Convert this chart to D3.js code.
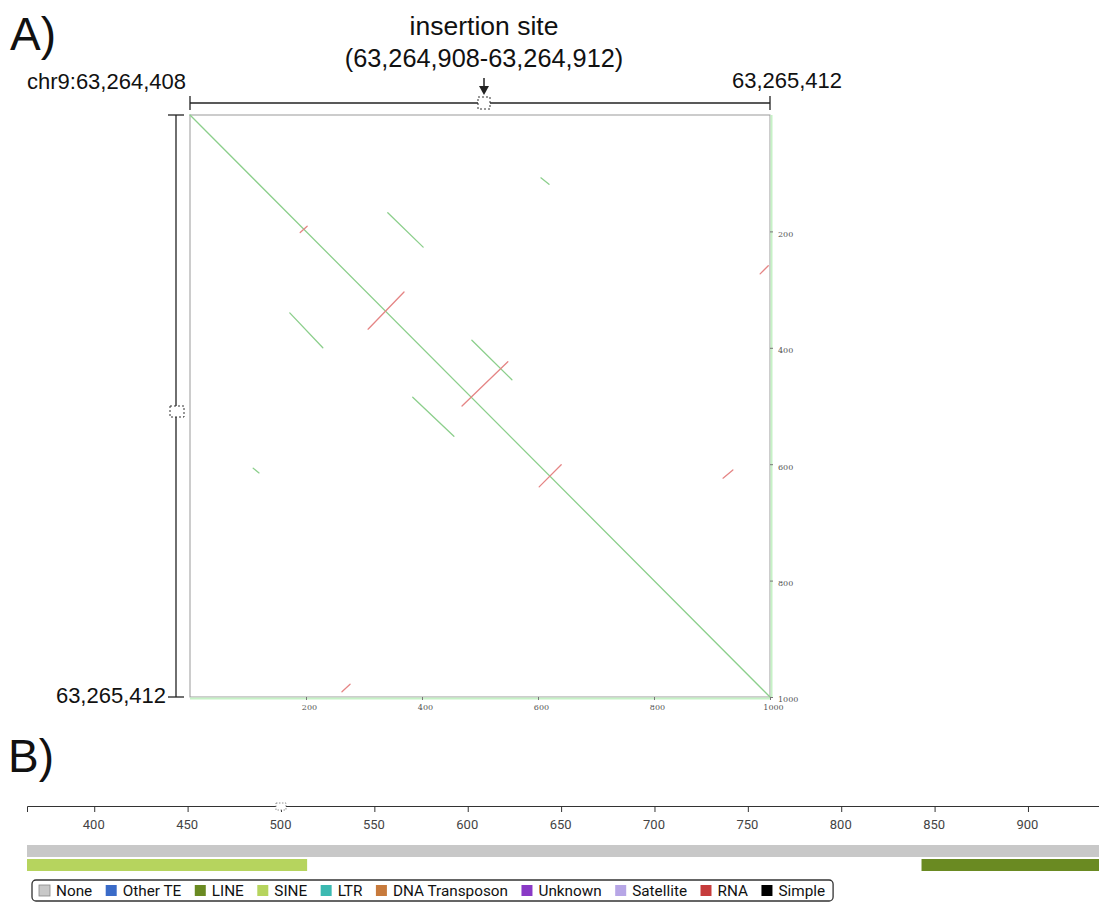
<!DOCTYPE html>
<html><head><meta charset="utf-8">
<script src="https://cdn.jsdelivr.net/npm/d3@7/dist/d3.min.js"></script>
<style>
body{margin:0;background:#fff;}
svg{display:block;}
</style></head>
<body>
<svg id="chart" width="1099" height="904"></svg>
<script>
// ---------- DATA ----------
const regionStartLabel = "chr9:63,264,408";
const regionEndLabel = "63,265,412";
const insertionTitle = "insertion site";
const insertionRange = "(63,264,908-63,264,912)";
const insertionSite = [500, 504];
const dotTicks = [200, 400, 600, 800, 1000];

// forward matches (green): [x1, y1, x2, y2] in bp
const forwardSegments = [
  [0, 0, 1000, 1000],
  [605, 108, 619, 119],
  [341, 168, 402, 227],
  [172, 340, 229, 400],
  [486, 387, 555, 455],
  [384, 485, 455, 552],
  [109, 607, 119, 615]
];
// reverse matches (red)
const reverseSegments = [
  [190, 202, 202, 191],
  [307, 368, 369, 304],
  [469, 500, 548, 424],
  [602, 639, 640, 601],
  [919, 624, 936, 610],
  [983, 273, 997, 259],
  [262, 991, 276, 978]
];

const trackTicks = [400, 450, 500, 550, 600, 650, 700, 750, 800, 850, 900];
const trackDomain = [364, 945];
const repeatTracks = [
  {type: "None", start: 364, end: 945, row: 0},
  {type: "SINE", start: 364, end: 514, row: 1},
  {type: "LINE", start: 843, end: 945, row: 1}
];
const legendNames = ["None", "Other TE", "LINE", "SINE", "LTR", "DNA Transposon", "Unknown", "Satellite", "RNA", "Simple"];
const legendColors = ["#c8c8c8", "#3a6bc8", "#6a8a22", "#b6d45e", "#3cb9b1", "#c77a3c", "#8a3ac6", "#b7a6e6", "#c63c3c", "#000000"];

// ---------- DRAW ----------
const svg = d3.select("#chart");
const FONT = "'Liberation Sans', Arial, sans-serif";
const x = d3.scaleLinear().domain([0, 1000]).range([190, 770]);
const y = d3.scaleLinear().domain([0, 1000]).range([115, 697]);

svg.append("text").attr("x", 10).attr("y", 50).attr("font-family", FONT)
  .attr("font-size", 46).attr("fill", "#111").text("A)");

svg.append("text").attr("x", 484).attr("y", 35).attr("text-anchor", "middle")
  .attr("font-family", FONT).attr("font-size", 26.5).attr("fill", "#111").text(insertionTitle);
svg.append("text").attr("x", 484).attr("y", 67).attr("text-anchor", "middle")
  .attr("font-family", FONT).attr("font-size", 25.3).attr("fill", "#111").text(insertionRange);
svg.append("text").attr("x", 186).attr("y", 89).attr("text-anchor", "end")
  .attr("font-family", FONT).attr("font-size", 22).attr("fill", "#111").text(regionStartLabel);
svg.append("text").attr("x", 787).attr("y", 88).attr("text-anchor", "middle")
  .attr("font-family", FONT).attr("font-size", 22).attr("fill", "#111").text(regionEndLabel);
svg.append("text").attr("x", 166).attr("y", 703).attr("text-anchor", "end")
  .attr("font-family", FONT).attr("font-size", 22).attr("fill", "#111").text(regionEndLabel);

// horizontal bracket
const br = svg.append("g").attr("stroke", "#222").attr("stroke-width", 1.3).attr("fill", "none");
br.append("line").attr("x1", x(0)).attr("x2", x(1000)).attr("y1", 103).attr("y2", 103);
br.append("line").attr("x1", x(0)).attr("x2", x(0)).attr("y1", 96).attr("y2", 110);
br.append("line").attr("x1", x(1000)).attr("x2", x(1000)).attr("y1", 96).attr("y2", 110);
// vertical bracket
br.append("line").attr("x1", 176).attr("x2", 176).attr("y1", y(0)).attr("y2", y(1000));
br.append("line").attr("x1", 168).attr("x2", 184).attr("y1", y(0)).attr("y2", y(0));
br.append("line").attr("x1", 168).attr("x2", 184).attr("y1", y(1000)).attr("y2", y(1000));

// insertion site markers
svg.append("rect").attr("x", x(insertionSite[0]) - 2).attr("y", 97).attr("width", 12).attr("height", 12)
  .attr("fill", "#fff").attr("stroke", "#333").attr("stroke-dasharray", "2,2").attr("stroke-width", 1);
svg.append("rect").attr("x", 170).attr("y", y(insertionSite[0])).attr("width", 14).attr("height", 11)
  .attr("fill", "#fff").attr("stroke", "#333").attr("stroke-dasharray", "2,2").attr("stroke-width", 1);
const ax = x(insertionSite[0]) + 4;
svg.append("line").attr("x1", ax).attr("x2", ax).attr("y1", 78).attr("y2", 88).attr("stroke", "#222").attr("stroke-width", 1.5);
svg.append("path").attr("d", `M${ax-5},86 L${ax+5},86 L${ax},95 Z`).attr("fill", "#222");

// plot frame
svg.append("rect").attr("x", x(0)).attr("y", y(0)).attr("width", x(1000) - x(0)).attr("height", y(1000) - y(0))
  .attr("fill", "#fff").attr("stroke", "#9a9a9a").attr("stroke-width", 1);
// faint edge bands (self-match projections)
svg.append("line").attr("x1", x(1000) + 1.5).attr("x2", x(1000) + 1.5).attr("y1", y(0)).attr("y2", y(1000))
  .attr("stroke", "#c6f2c6").attr("stroke-width", 2);
svg.append("line").attr("x1", x(0)).attr("x2", x(1000)).attr("y1", y(1000) + 1.5).attr("y2", y(1000) + 1.5)
  .attr("stroke", "#c6f2c6").attr("stroke-width", 2);

const segG = svg.append("g").attr("fill", "none").attr("stroke-width", 1.3).attr("stroke-linecap", "round");
segG.selectAll("line.f").data(forwardSegments).join("line").attr("class", "f")
  .attr("x1", d => x(d[0])).attr("y1", d => y(d[1])).attr("x2", d => x(d[2])).attr("y2", d => y(d[3]))
  .attr("stroke", "#8ccf8c");
segG.selectAll("line.r").data(reverseSegments).join("line").attr("class", "r")
  .attr("x1", d => x(d[0])).attr("y1", d => y(d[1])).attr("x2", d => x(d[2])).attr("y2", d => y(d[3]))
  .attr("stroke", "#e58585");

// dot plot axes
const fmt = d3.format("d");
const bAxis = svg.append("g").attr("transform", `translate(0,${y(1000)})`)
  .call(d3.axisBottom(x).tickValues(dotTicks).tickFormat(fmt).tickSize(3).tickSizeOuter(0));
bAxis.select(".domain").remove();
bAxis.selectAll("text").attr("font-family", "'DejaVu Serif', serif").attr("font-size", 8).attr("fill", "#555").attr("dx", 3).attr("dy", "0.9em");
bAxis.selectAll("line").attr("stroke", "#777");
const rAxis = svg.append("g").attr("transform", `translate(${x(1000)},0)`)
  .call(d3.axisRight(y).tickValues(dotTicks).tickFormat(fmt).tickSize(3).tickSizeOuter(0));
rAxis.select(".domain").remove();
rAxis.selectAll("text").attr("font-family", "'DejaVu Serif', serif").attr("font-size", 8).attr("fill", "#555").attr("dx", 2).attr("dy", "0.6em");
rAxis.selectAll("line").attr("stroke", "#777");

// ---------- B ----------
svg.append("text").attr("x", 8).attr("y", 772).attr("font-family", FONT)
  .attr("font-size", 46).attr("fill", "#111").text("B)");

const xb = d3.scaleLinear().domain(trackDomain).range([27, 1112]);
const tAxis = svg.append("g").attr("transform", "translate(0,806)")
  .call(d3.axisBottom(xb).tickValues(trackTicks).tickSize(6).tickSizeOuter(6));
tAxis.select(".domain").attr("stroke", "#333");
tAxis.selectAll("line").attr("stroke", "#333");
tAxis.selectAll("text").attr("font-family", "Roboto, sans-serif").attr("font-size", 13).attr("fill", "#444").attr("dx", -1).attr("dy", "1.05em");

svg.append("rect").attr("x", xb(500) - 5).attr("y", 803).attr("width", 10).attr("height", 7)
  .attr("fill", "#fff").attr("stroke", "#777").attr("stroke-dasharray", "1.5,1.5").attr("stroke-width", 0.8);

const color = d3.scaleOrdinal().domain(legendNames).range(legendColors);
svg.selectAll("rect.track").data(repeatTracks).join("rect").attr("class", "track")
  .attr("x", d => xb(d.start)).attr("width", d => xb(d.end) - xb(d.start))
  .attr("y", d => 845 + d.row * 14).attr("height", 12)
  .attr("fill", d => color(d.type));

// legend
const lg = svg.append("g");
const lbox = lg.append("rect").attr("x", 32).attr("y", 880).attr("height", 21).attr("rx", 4)
  .attr("fill", "#fff").attr("stroke", "#333").attr("stroke-width", 1.3);
let cx = 39;
legendNames.forEach((name, i) => {
  lg.append("rect").attr("x", cx).attr("y", 885).attr("width", 11).attr("height", 11)
    .attr("fill", legendColors[i]).attr("stroke", i === 0 ? "#888" : "none").attr("stroke-width", 0.8);
  const t = lg.append("text").attr("x", cx + 17).attr("y", 896).attr("font-family", "Roboto, sans-serif")
    .attr("font-size", 15.3).attr("fill", "#111").text(name);
  cx += 17 + t.node().getComputedTextLength() + 13.5;
});
lbox.attr("width", cx - 13.5 + 8 - 32);
</script>
</body></html>
